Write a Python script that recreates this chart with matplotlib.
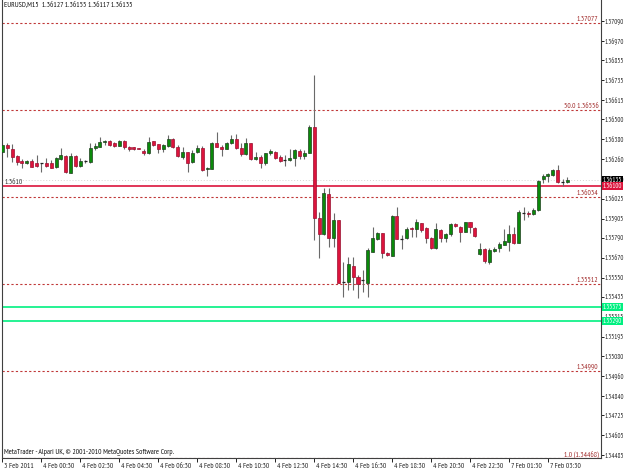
import matplotlib
matplotlib.use("Agg")
import matplotlib.pyplot as plt
import matplotlib.transforms as mtransforms
from matplotlib import font_manager

# ---------------- data ----------------
symbol_header = "EURUSD,M15  1.36127 1.36155 1.36117 1.36135"
footer = "MetaTrader - Alpari UK, \u00a9 2001-2010 MetaQuotes Software Corp."

opens = [1.36302, 1.36346, 1.36320, 1.36282, 1.36252, 1.36236, 1.36250, 1.36240, 1.36236, 1.36240,
         1.36240, 1.36216, 1.36260, 1.36280, 1.36180, 1.36282, 1.36222, 1.36250, 1.36246, 1.36326,
         1.36336, 1.36366, 1.36372, 1.36356, 1.36342, 1.36372, 1.36336, 1.36332, 1.36326, 1.36312,
         1.36296, 1.36370, 1.36350, 1.36320, 1.36342, 1.36382, 1.36336, 1.36276, 1.36302, 1.36242,
         1.36306, 1.36330, 1.36200, 1.36200, 1.36356, 1.36332, 1.36320, 1.36360, 1.36380, 1.36330,
         1.36292, 1.36360, 1.36260, 1.36276, 1.36236, 1.36296, 1.36302, 1.36272, 1.36256, 1.36256,
         1.36266, 1.36312, 1.36280, 1.36300, 1.36452, 1.35906, 1.35812, 1.36052, 1.35786, 1.35896,
         1.35522, 1.35522, 1.35620, 1.35556, 1.35536, 1.35520, 1.35706, 1.35784, 1.35820, 1.35700,
         1.35682, 1.35920, 1.35782, 1.35786, 1.35846, 1.35840, 1.35876, 1.35846, 1.35786, 1.35726,
         1.35836, 1.35786, 1.35810, 1.35872, 1.35856, 1.35826, 1.35882, 1.35850, 1.35692, 1.35720,
         1.35646, 1.35710, 1.35726, 1.35746, 1.35766, 1.35812, 1.35760, 1.35936, 1.35940, 1.35932,
         1.35956, 1.36140, 1.36160, 1.36166, 1.36196, 1.36122, 1.36127]
highs = [1.36356, 1.36360, 1.36352, 1.36286, 1.36260, 1.36256, 1.36260, 1.36286, 1.36240, 1.36266,
         1.36256, 1.36276, 1.36326, 1.36286, 1.36296, 1.36286, 1.36266, 1.36256, 1.36360, 1.36356,
         1.36392, 1.36376, 1.36376, 1.36366, 1.36376, 1.36376, 1.36340, 1.36336, 1.36330, 1.36320,
         1.36396, 1.36372, 1.36352, 1.36352, 1.36406, 1.36386, 1.36346, 1.36336, 1.36306, 1.36316,
         1.36346, 1.36340, 1.36216, 1.36366, 1.36426, 1.36346, 1.36366, 1.36406, 1.36412, 1.36356,
         1.36386, 1.36360, 1.36306, 1.36286, 1.36300, 1.36320, 1.36312, 1.36286, 1.36286, 1.36320,
         1.36320, 1.36320, 1.36316, 1.36466, 1.36766, 1.35946, 1.36086, 1.36086, 1.35940, 1.35896,
         1.35646, 1.35672, 1.35674, 1.35566, 1.35596, 1.35726, 1.35852, 1.35826, 1.35820, 1.35706,
         1.35926, 1.35976, 1.35806, 1.35852, 1.35852, 1.35900, 1.35880, 1.35852, 1.35792, 1.35876,
         1.35840, 1.35816, 1.35876, 1.35876, 1.35860, 1.35886, 1.35886, 1.35856, 1.35756, 1.35726,
         1.35726, 1.35732, 1.35766, 1.35840, 1.35866, 1.35856, 1.35956, 1.35972, 1.35952, 1.35966,
         1.36136, 1.36172, 1.36180, 1.36200, 1.36226, 1.36140, 1.36155]
lows = [1.36296, 1.36272, 1.36246, 1.36226, 1.36206, 1.36230, 1.36212, 1.36216, 1.36186, 1.36216,
        1.36210, 1.36210, 1.36256, 1.36176, 1.36180, 1.36216, 1.36216, 1.36240, 1.36240, 1.36316,
        1.36332, 1.36346, 1.36342, 1.36336, 1.36340, 1.36320, 1.36312, 1.36316, 1.36320, 1.36286,
        1.36292, 1.36340, 1.36296, 1.36306, 1.36336, 1.36326, 1.36272, 1.36260, 1.36186, 1.36236,
        1.36300, 1.36192, 1.36160, 1.36200, 1.36332, 1.36280, 1.36320, 1.36352, 1.36320, 1.36280,
        1.36286, 1.36256, 1.36256, 1.36206, 1.36226, 1.36286, 1.36260, 1.36246, 1.36220, 1.36252,
        1.36220, 1.36260, 1.36260, 1.36296, 1.35776, 1.35666, 1.35806, 1.35736, 1.35736, 1.35516,
        1.35436, 1.35476, 1.35476, 1.35426, 1.35466, 1.35432, 1.35702, 1.35776, 1.35666, 1.35682,
        1.35682, 1.35782, 1.35722, 1.35782, 1.35796, 1.35796, 1.35826, 1.35756, 1.35722, 1.35722,
        1.35766, 1.35766, 1.35800, 1.35852, 1.35766, 1.35822, 1.35816, 1.35796, 1.35686, 1.35636,
        1.35632, 1.35706, 1.35706, 1.35746, 1.35712, 1.35752, 1.35760, 1.35896, 1.35912, 1.35926,
        1.35952, 1.36116, 1.36122, 1.36160, 1.36120, 1.36102, 1.36117]
closes = [1.36346, 1.36326, 1.36272, 1.36242, 1.36236, 1.36252, 1.36216, 1.36220, 1.36236, 1.36220,
          1.36210, 1.36266, 1.36284, 1.36182, 1.36280, 1.36222, 1.36252, 1.36250, 1.36326, 1.36340,
          1.36366, 1.36372, 1.36346, 1.36340, 1.36372, 1.36336, 1.36320, 1.36320, 1.36324, 1.36296,
          1.36366, 1.36346, 1.36320, 1.36346, 1.36382, 1.36332, 1.36282, 1.36306, 1.36240, 1.36300,
          1.36330, 1.36196, 1.36206, 1.36360, 1.36332, 1.36320, 1.36360, 1.36380, 1.36326, 1.36292,
          1.36360, 1.36260, 1.36276, 1.36240, 1.36296, 1.36312, 1.36266, 1.36252, 1.36256, 1.36266,
          1.36316, 1.36280, 1.36296, 1.36452, 1.35906, 1.35812, 1.36056, 1.35786, 1.35896, 1.35520,
          1.35522, 1.35632, 1.35556, 1.35512, 1.35536, 1.35716, 1.35786, 1.35820, 1.35696, 1.35686,
          1.35920, 1.35782, 1.35782, 1.35840, 1.35840, 1.35882, 1.35836, 1.35786, 1.35726, 1.35840,
          1.35786, 1.35810, 1.35870, 1.35860, 1.35826, 1.35882, 1.35852, 1.35800, 1.35720, 1.35652,
          1.35716, 1.35722, 1.35750, 1.35770, 1.35812, 1.35756, 1.35942, 1.35936, 1.35930, 1.35956,
          1.36132, 1.36160, 1.36170, 1.36196, 1.36126, 1.36122, 1.36135]

xtick_bars = [0, 8, 16, 24, 32, 40, 48, 56, 64, 72, 80, 88, 96, 104, 112]
xtick_labels = ["3 Feb 2011", "4 Feb 00:30", "4 Feb 02:30", "4 Feb 04:30", "4 Feb 06:30",
                "4 Feb 08:30", "4 Feb 10:30", "4 Feb 12:30", "4 Feb 14:30", "4 Feb 16:30",
                "4 Feb 18:30", "4 Feb 20:30", "4 Feb 22:30", "7 Feb 01:30", "7 Feb 03:30"]

ytick_labels = ["1.37090", "1.36970", "1.36855", "1.36735", "1.36615", "1.36500", "1.36380",
                "1.36260", "1.36140", "1.36025", "1.35905", "1.35790", "1.35670", "1.35550",
                "1.35435", "1.35315", "1.35195", "1.35080", "1.34960", "1.34840", "1.34725",
                "1.34605", "1.34485"]
ytick_values = [float(s) for s in ytick_labels]

fibo_prices = [1.37077, 1.36556, 1.36034, 1.35512, 1.34990, 1.34468]
fibo_labels = ["1.37077", "50.0 1.36556", "1.36034", "1.35512", "1.34990", "1.0 (1.34468)"]

hline_red = 1.36100
hline_red_label = "1.3610"
hline_green = [1.35373, 1.35290]
hline_green_labels = ["1.35373", "1.35290"]
bid_price = 1.36135

y_min, y_max = 1.34468, 1.37216

# ---------------- fonts ----------------
names = {f.name for f in font_manager.fontManager.ttflist}
FONT = "Liberation Sans"
for cand in ["PT Sans Narrow", "Roboto Condensed", "Archivo Narrow", "Liberation Sans Narrow"]:
    if cand in names:
        FONT = cand
        break
plt.rcParams["font.family"] = [FONT, "DejaVu Sans"]

fig = plt.figure(figsize=(6.25, 4.69), dpi=100)
fig.patch.set_facecolor("white")

# size the fonts so that texts have the reference widths
renderer = fig.canvas.get_renderer()
probe = fig.text(0, 0, symbol_header, fontsize=10)
w10 = probe.get_window_extent(renderer).width
probe.remove()
FS = max(4.0, min(7.0, 10 * 127.0 / w10))
probe = fig.text(0, 0, "1.37090", fontsize=10)
wy10 = probe.get_window_extent(renderer).width
probe.remove()
FSY = max(3.8, min(FS, 10 * 19.5 / wy10))

ax = fig.add_axes([2 / 625, 11 / 469, 599 / 625, 458 / 469])
ax.set_facecolor("white")

n = len(opens)
xs = list(range(n))
ax.set_xlim(-0.1, 122.9)
ax.set_ylim(y_min, y_max)

# horizontal objects
for p in fibo_prices:
    ax.axhline(p, color="#c03838", lw=0.8, ls=(0, (2, 2)), zorder=1)
ax.axhline(bid_price, color="#d4d4d4", lw=0.7, ls=(0, (1, 2)), zorder=1)
ax.axhline(hline_red, color="#dc143c", lw=1.2, zorder=1)
for p in hline_green:
    ax.axhline(p, color="#00f080", lw=1.2, zorder=1)

# candles
bw = 0.62
for i in xs:
    o, h, l, c = opens[i], highs[i], lows[i], closes[i]
    ax.vlines(i, l, h, color="#6a6a6a", lw=0.8, zorder=2)
    up = c >= o
    fc = "#0a8a0a" if up else "#dc143c"
    ec = "#1f3f1f" if up else "#9a1030"
    bottom = min(o, c)
    height = abs(c - o)
    if height < 1e-6:
        ax.hlines(o, i - bw / 2, i + bw / 2, color="#222222", lw=0.9, zorder=3)
    else:
        ax.bar(i, height, bottom=bottom, width=bw, color=fc, edgecolor=ec,
               linewidth=0.5, zorder=3)

# fibo text labels
trans_r = mtransforms.blended_transform_factory(ax.transAxes, ax.transData)
for p, s in zip(fibo_prices, fibo_labels):
    ax.text(0.996, p, s, transform=trans_r, ha="right", va="bottom",
            fontsize=FS, color="#a02828", zorder=4)
ax.text(0.004, hline_red, hline_red_label, transform=trans_r, ha="left", va="bottom",
        fontsize=FS, color="#333333", zorder=4)

# axes styling
ax.spines["top"].set_visible(False)
for side in ["left", "right", "bottom"]:
    ax.spines[side].set_color("#404040")
    ax.spines[side].set_linewidth(0.8)

ax.yaxis.tick_right()
ax.set_yticks(ytick_values)
ax.set_yticklabels(ytick_labels)
ax.tick_params(axis="y", direction="out", length=2.0, width=0.7, pad=0.8,
               labelsize=FSY, colors="#222222")
ax.set_xticks(xtick_bars)
ax.set_xticklabels(xtick_labels, ha="left")
ax.tick_params(axis="x", direction="out", length=3, width=0.7, pad=0.5,
               labelsize=FS, colors="#222222")
for lbl in ax.get_xticklabels():
    lbl.set_transform(lbl.get_transform() + mtransforms.ScaledTranslation(2 / 100, 0, fig.dpi_scale_trans))

# right price boxes
def price_box(p, s, fc, tc):
    ax.text(1.0035, p, s, transform=trans_r, ha="left", va="center", fontsize=FSY,
            color=tc, clip_on=False, zorder=6,
            bbox=dict(boxstyle="square,pad=0.12", fc=fc, ec="none"))

price_box(bid_price, "1.36135", "black", "white")
price_box(hline_red, "1.36100", "#dc143c", "white")
for p, s in zip(hline_green, hline_green_labels):
    price_box(p, s, "#00f080", "white")

fig.text(4 / 625, 1 - 6 / 469, symbol_header, ha="left", va="center", fontsize=FS, color="#111111")
fig.text(4 / 625, 1 - 452 / 469, footer, ha="left", va="center", fontsize=FS, color="#111111")

fig.savefig("out.png", dpi=100, facecolor="white")
